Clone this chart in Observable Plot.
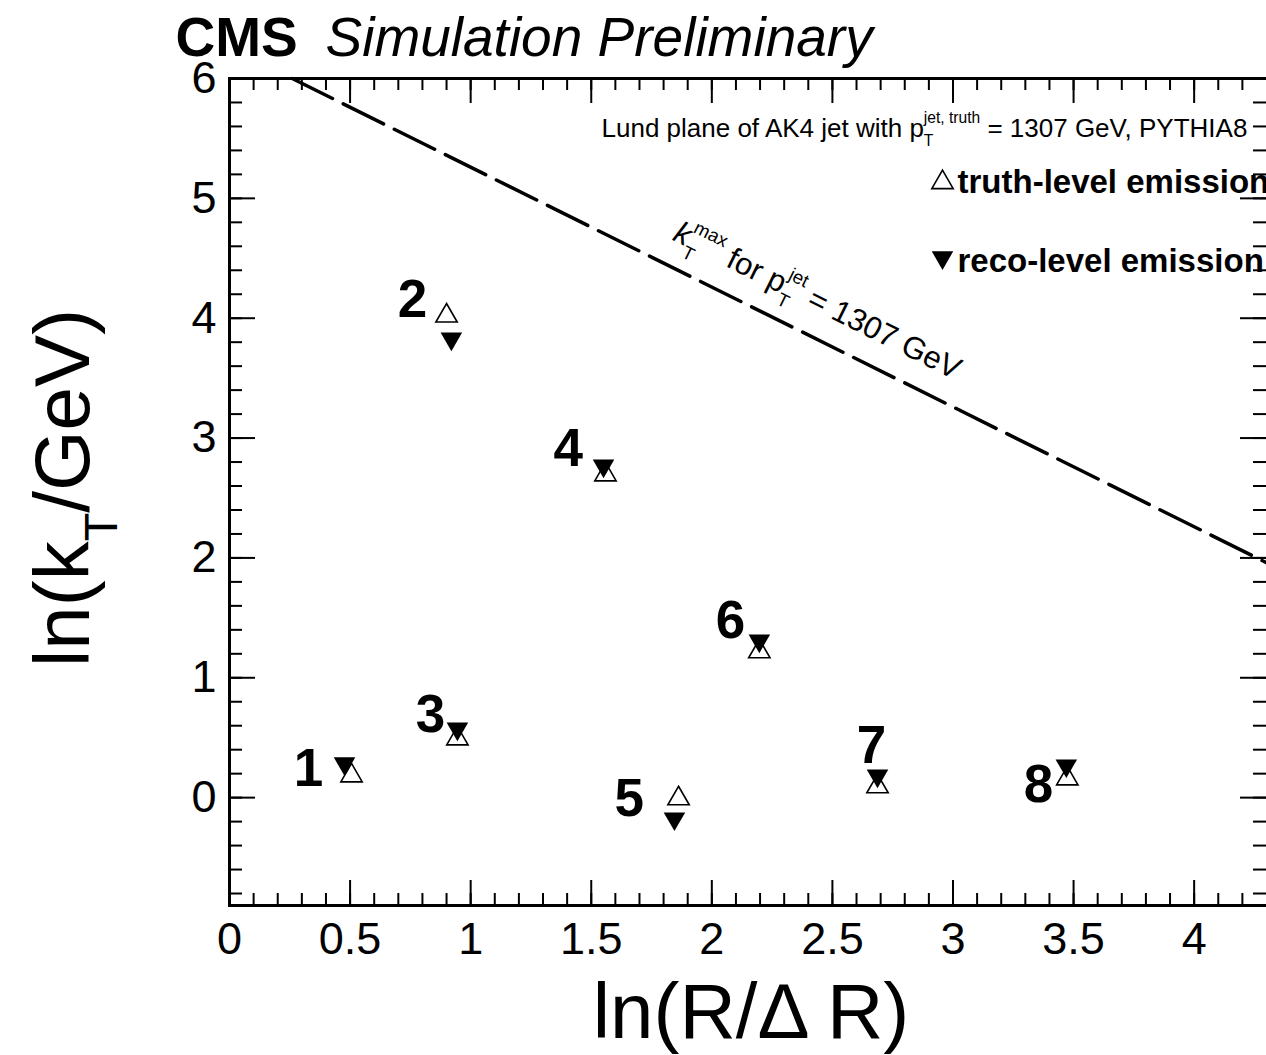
<!DOCTYPE html>
<html><head><meta charset="utf-8">
<script src="https://cdn.jsdelivr.net/npm/d3@7"></script>
<script src="https://cdn.jsdelivr.net/npm/@observablehq/plot@0.6"></script>
<style>
html,body{margin:0;padding:0;background:#fff;overflow:hidden;}
#chart svg{display:block;}
</style></head><body><div id="chart"></div>
<script>
// ---------------- data ----------------
const emissionIds = [1, 2, 3, 4, 5, 6, 7, 8];
const truthLnRdR = [0.506, 0.900, 0.945, 1.559, 1.862, 2.197, 2.687, 3.474];
const truthLnKt  = [0.183, 4.020, 0.492, 2.694, -0.008, 1.218, 0.092, 0.158];
const recoLnRdR  = [0.477, 0.920, 0.945, 1.551, 1.845, 2.197, 2.687, 3.470];
const recoLnKt   = [0.284, 3.828, 0.575, 2.769, -0.175, 1.309, 0.183, 0.267];
const labelLnRdR = [0.328, 0.759, 0.833, 1.405, 1.658, 2.077, 2.662, 3.354];
const labelLnKt  = [0.242, 4.153, 0.692, 2.911, -0.008, 1.476, 0.434, 0.108];
const ktMaxLnRdR = [0.26, 4.3];
const ktMaxLnKt  = [6.0, 1.96];
const ktMaxLabelPos = [2.438, 4.145];
const xDomain = [0, 4.3];
const yDomain = [-0.9, 6];
const xTickLabels = [0, 0.5, 1, 1.5, 2, 2.5, 3, 3.5, 4];
const yTickLabels = [0, 1, 2, 3, 4, 5, 6];
const xMinorTicks = d3.range(1, 43).map(i => i / 10);
const yMinorTicks = d3.range(-4, 30).map(i => i / 5);

const titleBold = "CMS";
const titleItalic = "Simulation Preliminary";
const xTitle = "ln(R/Δ R)";
const yTitle = "ln(k_{T}/GeV)";
const headerText = "Lund plane of AK4 jet with p_{T}^{jet, truth} = 1307 GeV, PYTHIA8";
const ktMaxText = "#it{k}_{T}^{max} for p_{T}^{jet} = 1307 GeV";
const legendTruth = "truth-level emission";
const legendReco = "reco-level emission";

// ---------------- layout ----------------
const W = 1266, H = 1055;
const M = {top: 78, right: 0, bottom: 150, left: 229};
const frameW = W - M.left - M.right, frameH = H - M.top - M.bottom;
const FONT = "'Liberation Sans', Arial, Helvetica, sans-serif";

const truth = emissionIds.map((id, i) => ({id, x: truthLnRdR[i], y: truthLnKt[i]}));
const reco = emissionIds.map((id, i) => ({id, x: recoLnRdR[i], y: recoLnKt[i]}));
const labels = emissionIds.map((id, i) => ({id, x: labelLnRdR[i], y: labelLnKt[i]}));
const ktLine = ktMaxLnRdR.map((x, i) => ({x, y: ktMaxLnKt[i]}));

const fmt = d => String(d);

const plot = Plot.plot({
  width: W, height: H,
  marginTop: M.top, marginRight: M.right, marginBottom: M.bottom, marginLeft: M.left,
  x: {domain: xDomain, axis: null},
  y: {domain: yDomain, axis: null},
  style: {fontFamily: FONT, color: "black", background: "white", overflow: "hidden"},
  marks: [
    // ticks (ROOT style, inward, mirrored)
    Plot.tickX(xMinorTicks, {x: d => d, insetTop: frameH - 12, strokeWidth: 2}),
    Plot.tickX(xMinorTicks, {x: d => d, insetBottom: frameH - 12, strokeWidth: 2}),
    Plot.tickX(xTickLabels, {x: d => d, insetTop: frameH - 25, strokeWidth: 2}),
    Plot.tickX(xTickLabels, {x: d => d, insetBottom: frameH - 25, strokeWidth: 2}),
    Plot.tickY(yMinorTicks, {y: d => d, insetRight: frameW - 13, strokeWidth: 2}),
    Plot.tickY(yMinorTicks, {y: d => d, insetLeft: frameW - 13, strokeWidth: 2}),
    Plot.tickY(yTickLabels, {y: d => d, insetRight: frameW - 26, strokeWidth: 2}),
    Plot.tickY(yTickLabels, {y: d => d, insetLeft: frameW - 26, strokeWidth: 2}),
    Plot.frame({stroke: "black", strokeWidth: 3, insetRight: -3}),
    // tick labels
    Plot.text(xTickLabels, {x: d => d, text: fmt, frameAnchor: "bottom", dy: 17, lineAnchor: "top", textAnchor: "middle", fontSize: 45}),
    Plot.text(yTickLabels, {y: d => d, text: fmt, frameAnchor: "left", dx: -13, textAnchor: "end", lineAnchor: "middle", fontSize: 45}),
    // axis titles
    Plot.text([xTitle], {frameAnchor: "bottom", dx: 3, dy: 132, textAnchor: "middle", lineAnchor: "bottom", fontSize: 78}),
    Plot.text([yTitle], {frameAnchor: "left", dx: -141, dy: -4, rotate: -90, textAnchor: "middle", lineAnchor: "bottom", fontSize: 78}),
    // kT max line
    Plot.line(ktLine, {x: "x", y: "y", stroke: "black", strokeWidth: 3.5, strokeDasharray: "45,12"}),
    Plot.text([ktMaxText], {x: () => ktMaxLabelPos[0], y: () => ktMaxLabelPos[1], rotate: 26.4, fontSize: 31, textAnchor: "middle", lineAnchor: "middle"}),
    // emissions
    Plot.dot(reco, {x: "x", y: "y", symbol: "triangle", rotate: 180, r: 8, fill: "black", stroke: "none"}),
    Plot.dot(truth, {x: "x", y: "y", symbol: "triangle2", r: 10.2, fill: "none", stroke: "black", strokeWidth: 1.6}),
    Plot.text(labels, {x: "x", y: "y", text: d => String(d.id), fontWeight: "bold", fontSize: 53, textAnchor: "middle", lineAnchor: "middle"}),
    // header and legend
    Plot.text([headerText], {frameAnchor: "top-left", dx: 372, dy: 58, textAnchor: "start", lineAnchor: "bottom", fontSize: 26}),
    Plot.dot([0], {frameAnchor: "top-left", dx: 713, dy: 104, symbol: "triangle2", r: 10.2, fill: "none", stroke: "black", strokeWidth: 1.6}),
    Plot.dot([0], {frameAnchor: "top-left", dx: 713, dy: 179, symbol: "triangle", rotate: 180, r: 8, fill: "black", stroke: "none"}),
    Plot.text([legendTruth], {frameAnchor: "top-left", dx: 728, dy: 114, textAnchor: "start", lineAnchor: "bottom", fontWeight: "bold", fontSize: 33}),
    Plot.text([legendReco], {frameAnchor: "top-left", dx: 728, dy: 193, textAnchor: "start", lineAnchor: "bottom", fontWeight: "bold", fontSize: 33}),
    // title
    Plot.text([titleBold], {frameAnchor: "top-left", dx: -54, dy: -23, textAnchor: "start", lineAnchor: "bottom", fontWeight: "bold", fontSize: 55}),
    Plot.text([titleItalic], {frameAnchor: "top-left", dx: 96, dy: -23, textAnchor: "start", lineAnchor: "bottom", fontStyle: "italic", fontSize: 55})
  ]
});

document.getElementById("chart").appendChild(plot);

// ---------------- rich text (sub/superscripts, italics) ----------------
function parseRich(s) {
  const out = []; let buf = ""; let i = 0;
  const flush = () => { if (buf) { out.push({text: buf, mode: "n"}); buf = ""; } };
  while (i < s.length) {
    if ((s[i] === "_" || s[i] === "^") && s[i + 1] === "{") {
      flush(); const j = s.indexOf("}", i);
      out.push({text: s.slice(i + 2, j), mode: s[i] === "_" ? "sub" : "sup"}); i = j + 1;
    } else if (s.startsWith("#it{", i)) {
      flush(); const j = s.indexOf("}", i);
      out.push({text: s.slice(i + 4, j), mode: "it"}); i = j + 1;
    } else { buf += s[i]; i++; }
  }
  flush();
  return out;
}
const SUB = 0.36, SUP = 0.52, SCALE = 0.6;
for (const t of plot.querySelectorAll("text")) {
  const s = t.textContent;
  if (!/[_^]\{|#it\{/.test(s)) continue;
  const fs = parseFloat(getComputedStyle(t).fontSize);
  const segs = parseRich(s);
  t.textContent = "";
  t.style.whiteSpace = "pre";
  let cur = 0, pending = 0, last = null;
  for (const seg of segs) {
    const ts = document.createElementNS("http://www.w3.org/2000/svg", "tspan");
    const isScript = seg.mode === "sub" || seg.mode === "sup";
    const target = seg.mode === "sub" ? SUB * fs : seg.mode === "sup" ? -SUP * fs : 0;
    let dx = pending; pending = 0;
    const stacked = isScript && last && (last.mode === "sub" || last.mode === "sup") && last.mode !== seg.mode;
    if (stacked) dx -= last.w;
    if (dx) ts.setAttribute("dx", dx);
    if (target - cur) ts.setAttribute("dy", target - cur);
    cur = target;
    if (isScript) ts.setAttribute("font-size", fs * SCALE);
    if (seg.mode === "it") ts.setAttribute("font-style", "italic");
    ts.textContent = seg.text;
    t.appendChild(ts);
    const w = ts.getComputedTextLength();
    if (stacked) pending = Math.max(0, last.w - w);
    last = {mode: seg.mode, w};
  }
}
</script></body></html>
